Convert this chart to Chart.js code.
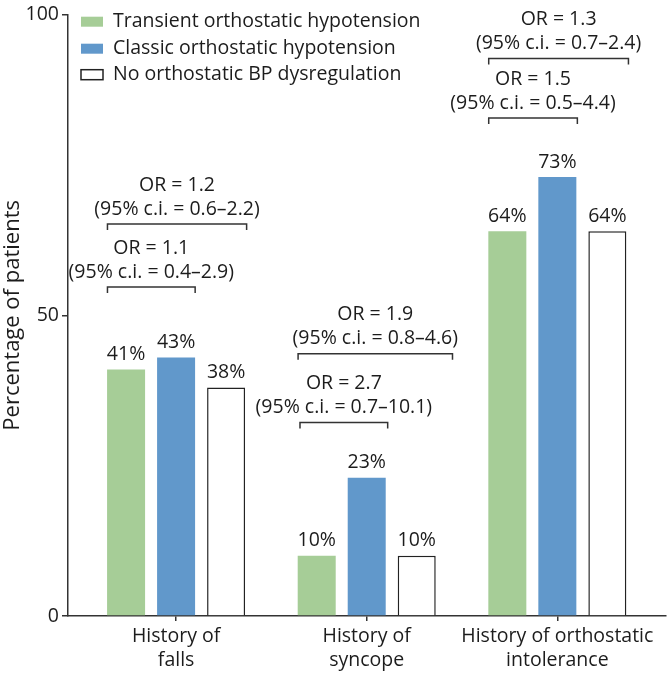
<!DOCTYPE html>
<html>
<head>
<meta charset="utf-8">
<script src="https://cdn.jsdelivr.net/npm/chart.js@4/dist/chart.umd.min.js"></script>
<style>
  html, body { margin: 0; padding: 0; background: #fff; }
  #wrap { width: 668px; height: 673px; position: relative; }
</style>
</head>
<body>
<div id="wrap"><canvas id="c" width="668" height="673"></canvas></div>
<script>
// ---- data ----
const categories = [['History of', 'falls'], ['History of', 'syncope'], ['History of orthostatic', 'intolerance']];
const seriesNames = ['Transient orthostatic hypotension', 'Classic orthostatic hypotension', 'No orthostatic BP dysregulation'];
const transientOH = [41, 10, 64];
const classicOH = [43, 23, 73];
const noDysregulation = [38, 10, 64];
const yTicks = [0, 50, 100];

// comparison brackets (category index, span in category units, level in % units)
const bracketCategory = [0, 0, 1, 1, 2, 2];
const bracketFrom = [-0.36, -0.36, -0.35, -0.36, -0.36, -0.36];
const bracketTo = [0.10, 0.37, 0.11, 0.45, 0.105, 0.373];
const bracketLevel = [54.7, 65.2, 32.2, 43.6, 82.8, 92.7];
const orLabels = ['OR = 1.1', 'OR = 1.2', 'OR = 2.7', 'OR = 1.9', 'OR = 1.5', 'OR = 1.3'];
const ciLabels = ['(95% c.i. = 0.4–2.9)', '(95% c.i. = 0.6–2.2)', '(95% c.i. = 0.7–10.1)', '(95% c.i. = 0.8–4.6)', '(95% c.i. = 0.5–4.4)', '(95% c.i. = 0.7–2.4)'];

const GREEN = '#a6cd97';
const BLUE = '#6198cb';
const INK = '#1c1c1c';
const FONT = '"Open Sans", "DejaVu Sans", sans-serif';
const FS = 19.5;

const toXY = arr => arr.map((v, i) => ({ x: i, y: v }));

const annotate = {
  id: 'annotate',
  afterDatasetsDraw(chart) {
    const ctx = chart.ctx;
    const xs = chart.scales.x, ys = chart.scales.y;
    ctx.save();
    ctx.fillStyle = INK;
    ctx.font = FS + 'px ' + FONT;
    ctx.textAlign = 'center';
    ctx.textBaseline = 'middle';
    // value labels
    chart.data.datasets.forEach((ds, di) => {
      const meta = chart.getDatasetMeta(di);
      meta.data.forEach((bar, i) => {
        ctx.fillText(ds.data[i].y + '%', bar.x, bar.y - 15);
      });
    });
    // brackets
    ctx.strokeStyle = '#333';
    ctx.lineWidth = 1.5;
    for (let k = 0; k < bracketLevel.length; k++) {
      const x1 = xs.getPixelForValue(bracketCategory[k] + bracketFrom[k]);
      const x2 = xs.getPixelForValue(bracketCategory[k] + bracketTo[k]);
      const y = ys.getPixelForValue(bracketLevel[k]);
      ctx.beginPath();
      ctx.moveTo(x1, y + 6);
      ctx.lineTo(x1, y);
      ctx.lineTo(x2, y);
      ctx.lineTo(x2, y + 6);
      ctx.stroke();
      const cx = (x1 + x2) / 2;
      ctx.fillText(ciLabels[k], cx, y - 15);
      ctx.fillText(orLabels[k], cx, y - 39);
    }
    // legend
    const lx = chart.chartArea.left + 13;
    const rowY = [chart.chartArea.top + 7, chart.chartArea.top + 34, chart.chartArea.top + 60];
    ctx.textAlign = 'left';
    chart.data.datasets.forEach((ds, di) => {
      const y = rowY[di];
      ctx.fillStyle = ds.backgroundColor;
      ctx.fillRect(lx, y - 5, 22, 10);
      if (ds.borderWidth) {
        ctx.strokeStyle = ds.borderColor;
        ctx.lineWidth = 1.5;
        ctx.strokeRect(lx, y - 5, 22, 10);
      }
      ctx.fillStyle = INK;
      ctx.fillText(ds.label, lx + 32, y);
    });
    ctx.restore();
  }
};

new Chart(document.getElementById('c'), {
  type: 'bar',
  data: {
    datasets: [
      { label: seriesNames[0], data: toXY(transientOH), backgroundColor: GREEN, borderWidth: 0 },
      { label: seriesNames[1], data: toXY(classicOH), backgroundColor: BLUE, borderWidth: 0 },
      { label: seriesNames[2], data: toXY(noDysregulation), backgroundColor: '#ffffff', borderColor: '#222', borderWidth: 1.5 }
    ]
  },
  options: {
    responsive: false,
    animation: false,
    events: [],
    categoryPercentage: 0.787,
    barPercentage: 0.76,
    layout: { padding: { top: 13, right: 2, left: 0, bottom: 0 } },
    plugins: { legend: { display: false }, tooltip: { enabled: false } },
    scales: {
      x: {
        type: 'linear',
        min: -0.567,
        max: 2.57,
        offset: false,
        grid: { display: true, offset: false, drawOnChartArea: false, drawTicks: true, tickLength: 5, color: '#333', lineWidth: 1.5 },
        border: { display: true, color: '#333', width: 1.5 },
        afterBuildTicks(scale) { scale.ticks = categories.map((c, i) => ({ value: i })); },
        ticks: {
          autoSkip: false,
          maxRotation: 0,
          padding: 4,
          color: INK,
          font: { family: FONT, size: FS, lineHeight: 1.2 },
          callback: (v) => categories[v]
        },
        afterFit(scale) { scale.height = 57; }
      },
      y: {
        min: 0,
        max: 100,
        afterBuildTicks(scale) { scale.ticks = yTicks.map(v => ({ value: v })); },
        grid: { display: true, drawOnChartArea: false, drawTicks: true, tickLength: 6, color: '#333', lineWidth: 1.5 },
        border: { display: true, color: '#333', width: 1.5 },
        ticks: { padding: 3, color: INK, font: { family: FONT, size: FS } },
        title: { display: true, text: 'Percentage of patients', color: INK, font: { family: FONT, size: 22 }, padding: { top: 0, bottom: 0 } },
        afterFit(scale) { scale.width = 68; }
      }
    }
  },
  plugins: [annotate]
});
</script>
</body>
</html>
